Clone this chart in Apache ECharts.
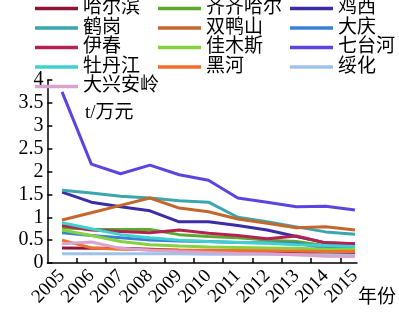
<!DOCTYPE html>
<html>
<head>
<meta charset="utf-8">
<script src="https://cdn.jsdelivr.net/npm/echarts@6/dist/echarts.min.js"></script>
<style>
  html, body { margin: 0; padding: 0; background: #fff; }
  #chart { width: 399px; height: 325px; }
</style>
</head>
<body>
<div id="chart"></div>
<script>
// Energy intensity by city, 2005-2015 (t per 10k yuan)
const years = [2005, 2006, 2007, 2008, 2009, 2010, 2011, 2012, 2013, 2014, 2015];
const yTicks = [0, 0.5, 1, 1.5, 2, 2.5, 3, 3.5, 4];

const harbin     = [0.33, 0.32, 0.32, 0.30, 0.28, 0.27, 0.26, 0.25, 0.24, 0.22, 0.21];
const qiqihar    = [0.77, 0.74, 0.73, 0.73, 0.62, 0.58, 0.55, 0.50, 0.47, 0.38, 0.37];
const jixi       = [1.55, 1.33, 1.23, 1.14, 0.90, 0.90, 0.82, 0.72, 0.58, 0.44, 0.42];
const hegang     = [1.59, 1.53, 1.46, 1.42, 1.36, 1.33, 1.00, 0.90, 0.79, 0.68, 0.63];
const shuangyashan = [0.94, 1.10, 1.26, 1.42, 1.20, 1.12, 0.96, 0.87, 0.77, 0.79, 0.72];
const daqing     = [0.66, 0.60, 0.55, 0.50, 0.48, 0.47, 0.45, 0.44, 0.43, 0.33, 0.32];
const yichun     = [0.82, 0.72, 0.69, 0.66, 0.72, 0.65, 0.60, 0.53, 0.59, 0.44, 0.42];
const jiamusi    = [0.72, 0.60, 0.47, 0.40, 0.37, 0.35, 0.34, 0.33, 0.32, 0.30, 0.30];
const qitaihe    = [3.74, 2.16, 1.95, 2.14, 1.93, 1.81, 1.42, 1.33, 1.23, 1.24, 1.16];
const mudanjiang = [0.88, 0.75, 0.62, 0.55, 0.50, 0.47, 0.45, 0.43, 0.40, 0.38, 0.36];
const heihe      = [0.50, 0.33, 0.30, 0.29, 0.28, 0.28, 0.27, 0.27, 0.26, 0.25, 0.25];
const suihua     = [0.20, 0.20, 0.20, 0.20, 0.20, 0.19, 0.19, 0.19, 0.18, 0.18, 0.17];
const daxinganling = [0.42, 0.46, 0.32, 0.28, 0.25, 0.23, 0.21, 0.20, 0.18, 0.15, 0.14];

const cities = [
  { name: '哈尔滨',   values: harbin,       color: '#8e1538' },
  { name: '齐齐哈尔', values: qiqihar,      color: '#5ea82d' },
  { name: '鸡西',     values: jixi,         color: '#3a2da6' },
  { name: '鹤岗',     values: hegang,       color: '#3aa6ad' },
  { name: '双鸭山',   values: shuangyashan, color: '#c4672c' },
  { name: '大庆',     values: daqing,       color: '#3b7fd6' },
  { name: '伊春',     values: yichun,       color: '#b3234f' },
  { name: '佳木斯',   values: jiamusi,      color: '#86d13f' },
  { name: '七台河',   values: qitaihe,      color: '#5b45e0' },
  { name: '牡丹江',   values: mudanjiang,   color: '#3fd0cf' },
  { name: '黑河',     values: heihe,        color: '#f26e2c' },
  { name: '绥化',     values: suihua,       color: '#9fc2ea' },
  { name: '大兴安岭', values: daxinganling, color: '#d9a3cf' }
];

const FONT = "'Liberation Serif', 'Noto Sans CJK SC', serif";

// Legend swatches are thin bars, like short line segments
const legendBase = {
  orient: 'vertical',
  top: -1,
  padding: 0,
  icon: 'rect',
  itemWidth: 43,
  itemHeight: 3.5,
  itemGap: 0.5,
  textStyle: { fontFamily: FONT, fontSize: 19, color: '#000', lineHeight: 17 }
};
const col = (i) => cities.filter((c, k) => k % 3 === i).map(c => c.name);

const chart = echarts.init(document.getElementById('chart'));
chart.setOption({
  animation: false,
  backgroundColor: '#fff',
  legend: [
    Object.assign({}, legendBase, { left: 35,  data: col(0) }),
    Object.assign({}, legendBase, { left: 158, data: col(1) }),
    Object.assign({}, legendBase, { left: 290, data: col(2) })
  ],
  grid: { left: 47.4, right: 42, top: 80, bottom: 62 },
  xAxis: {
    type: 'value',
    min: 2004.5,
    max: 2015.07,
    splitLine: { show: false },
    axisLine: { lineStyle: { color: '#000', width: 1.5 } },
    axisTick: {
      inside: true, length: 5,
      lineStyle: { color: '#000', width: 1.5 },
      customValues: years.slice(0, -1).map(y => y + 0.5)
    },
    axisLabel: {
      customValues: years,
      rotate: 45,
      margin: 10,
      color: '#000',
      fontFamily: FONT,
      fontSize: 19,
      formatter: (v) => String(Math.round(v))
    }
  },
  yAxis: {
    type: 'value',
    min: 0,
    max: 4,
    interval: 0.5,
    splitLine: { show: false },
    axisLine: { show: true, lineStyle: { color: '#000', width: 1.5 } },
    axisTick: { show: true, inside: true, length: 5, lineStyle: { color: '#000', width: 1.5 } },
    axisLabel: {
      color: '#000',
      fontFamily: FONT,
      fontSize: 20,
      margin: 4,
      formatter: (v) => yTicks.includes(v) ? String(v) : ''
    }
  },
  graphic: [
    { type: 'text', left: 85, top: 104,
      style: { text: 't/万元', font: "19px " + FONT, fill: '#000' } },
    { type: 'text', left: 358, top: 289,
      style: { text: '年份', font: "19px " + FONT, fill: '#000' } }
  ],
  series: cities.map(c => ({
    name: c.name,
    type: 'line',
    symbol: 'none',
    color: c.color,
    lineStyle: { width: 3, color: c.color },
    data: years.map((y, i) => [y, c.values[i]])
  }))
});
</script>
</body>
</html>
